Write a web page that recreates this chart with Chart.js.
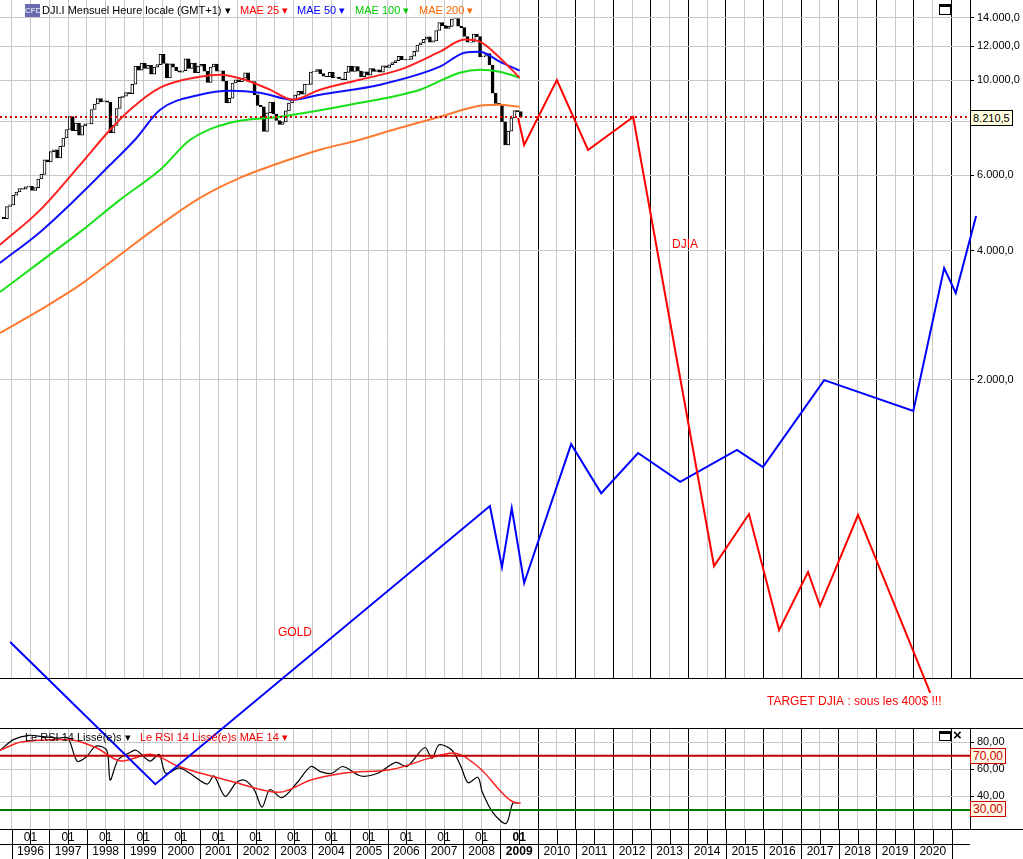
<!DOCTYPE html>
<html><head><meta charset="utf-8">
<style>
body{margin:0;background:#fff;width:1023px;height:859px;overflow:hidden;font-family:'Liberation Sans',Arial,sans-serif;position:relative}
.abs{position:absolute}
.lg{position:absolute;top:4px;font-size:11px;white-space:nowrap;z-index:6}
.box{position:absolute;font-size:11px;line-height:14px;padding:0 2px;white-space:nowrap;z-index:6}
</style>
<script src="https://cdn.jsdelivr.net/npm/chart.js@4"></script>
</head><body>
<div class="abs" style="left:0;top:-10px;width:1023px;height:698px"><canvas id="main"></canvas></div>
<div class="abs" style="left:0;top:679px;width:1023px;height:49px;background:#fff;z-index:3"></div>
<div class="abs" style="left:0;top:718px;width:1023px;height:141px"><canvas id="rsi"></canvas></div>
<div class="abs" style="left:0;top:678px;width:1023px;height:1px;background:#000;z-index:4"></div>
<div class="abs" style="left:0;top:728px;width:1023px;height:1px;background:#000;z-index:4"></div>

<div class="lg" style="left:25px;top:4px;background:#6a6ab0;color:#fff;font-size:8px;width:15px;height:13px;line-height:13px;text-align:center">CFD</div>
<div class="lg" style="left:42px">DJI.I Mensuel Heure locale (GMT+1)</div>
<div class="lg" style="left:225px">▾</div>
<div class="lg" style="left:240px;color:#f00">MAE 25 ▾</div>
<div class="lg" style="left:297px;color:#00f">MAE 50 ▾</div>
<div class="lg" style="left:355px;color:#0c0">MAE 100 ▾</div>
<div class="lg" style="left:419px;color:#f60">MAE 200 ▾</div>
<div class="abs" style="left:939px;top:4px;width:10px;height:7px;border:1px solid #000;border-top-width:3px;z-index:6"></div>
<div class="lg" style="left:25px;top:731px">Le RSI 14 Lissé(e)s ▾</div>
<div class="lg" style="left:140px;top:731px;color:#e00">Le RSI 14 Lissé(e)s MAE 14 ▾</div>
<div class="abs" style="left:939px;top:731px;width:10px;height:6px;border:1px solid #000;border-top-width:3px;z-index:6"></div>
<div class="lg" style="left:953px;top:726px;font-size:15px;font-weight:bold">×</div>
<div class="box" style="left:970px;top:110px;border:1px solid #000;background:#ffffe0">8.210,5</div>
<div class="box" style="left:970px;top:748px;border:1px solid #c00;background:#fffbe6;color:#c00;font-size:12px">70,00</div>
<div class="box" style="left:970px;top:801px;border:1px solid #c00;background:#fffbe6;color:#c00;font-size:12px">30,00</div>

<div class="abs" style="left:0;top:0;width:1023px;height:859px;pointer-events:none;z-index:5"><canvas id="ov"></canvas></div>

<script>
// ---- DATA ----
const startYear = 1995.75; // Oct 1995
const firstOpen = 4789;
const closes = [
4756,5075,5117,
5395,5486,5587,5569,5643,5655,5529,5616,5882,6029,6522,6448,
6813,6877,6584,7009,7331,7673,8223,7622,7945,7442,7823,7908,
7907,8546,8800,9063,8900,8952,8883,7539,7843,8592,9117,9181,
9359,9307,9786,10789,10560,10971,10655,10829,10337,10730,10878,11497,
10941,10128,10922,10734,10522,10448,10522,11215,10651,10971,10415,10787,
10887,10495,9879,10735,10912,10502,10523,9950,8848,9075,9852,10022,
9920,10106,10404,9946,9925,9243,8737,8664,7592,8397,8896,8342,
8054,7891,7992,8480,8850,8985,9234,9416,9275,9801,9782,10454,
10488,10584,10358,10226,10188,10435,10140,10174,10080,10027,10428,10783,
10490,10766,10504,10193,10467,10275,10641,10482,10569,10440,10806,10718,
10865,10993,11109,11367,11168,11150,11186,11381,11679,12081,12222,12463,
12622,12269,12354,13063,13628,13409,13212,13358,13896,13930,13372,13265,
12650,12266,12263,12820,12638,11350,11378,11544,10851,9325,8829,8776,
8001,7063,7609,8168,8500,8447,8210.5];
const lastPrice = 8210.5;

const mae25Dates = [1995.69,1996.76,1997.82,1998.62,1999.15,1999.95,2001.01,2001.54,2002.2,2002.87,2003.48,2004.2,2005.26,2006.33,2007.39,2008.05,2008.45,2008.98,2009.51];
const mae25 = [4129,4984,6348,7664,8534,9607,10193,10303,10029,9504,9006,9504,10029,10584,11659,12438,12305,11290,10138];
const mae50Dates = [1995.69,1996.76,1997.82,1998.62,1999.28,1999.95,2001.01,2001.81,2002.6,2003.48,2004.2,2005.8,2007.39,2008.05,2008.45,2008.98,2009.51];
const mae50 = [3748,4427,5403,6348,7262,8534,9251,9453,9352,9006,9251,9763,10756,11597,11659,11049,10527];
const mae100Dates = [1995.69,1996.76,1997.82,1998.88,1999.95,2000.75,2001.81,2003.14,2005.0,2006.86,2007.92,2008.45,2008.98,2009.51];
const mae100 = [3206,3768,4427,5259,6180,7262,7958,8220,8767,9504,10414,10584,10470,10138];
const mae200Dates = [1995.69,1996.76,1997.82,1998.88,1999.95,2001.01,2002.07,2003.14,2004.2,2005.26,2006.33,2007.39,2008.45,2008.98,2009.51];
const mae200 = [2572,2911,3329,3912,4598,5316,5919,6418,6881,7262,7746,8220,8721,8767,8673];

const djiaDates = [2009.47,2009.63,2010.50,2011.33,2012.53,2014.68,2015.61,2016.41,2017.18,2017.50,2018.51,2020.43];
const djiaPath = [8175,7069,10029,6881,8220,734,971,520,711,592,966,371];
const goldDates = [1995.96,1999.82,2008.72,2009.04,2009.30,2009.63,2010.88,2011.68,2012.66,2013.78,2015.29,2015.98,2017.61,2019.98,2020.80,2021.11,2021.65];
const goldPath = [488,227,1014,730,1003,670,1414,1086,1348,1154,1371,1250,1996,1690,3647,3188,4825];

const rsiDates = [1995.69,1996.06,1996.46,1996.84,1997.26,1997.50,1997.74,1997.98,1998.24,1998.53,1998.62,1998.83,1999.12,1999.31,1999.68,1999.92,2000.10,2000.45,2000.74,2001.20,2001.38,2001.68,2001.97,2002.18,2002.45,2002.66,2002.87,2003.19,2003.59,2003.96,2004.23,2004.52,2004.81,2005.29,2005.74,2006.22,2006.51,2006.99,2007.18,2007.37,2007.71,2007.95,2008.14,2008.40,2008.52,2008.80,2009.15,2009.33,2009.48];
const rsi = [74,82,85,84,83,83,66,69,77,74,52,67,72,74,66,71,57,61,57,49,55,40,50,52,45,32,45,39,50,62,58,57,62,55,57,65,62,76,68,78,74,62,50,54,43,28,20,35,35];
const rsiMaDates = [1995.69,1996.25,1997.50,1998.24,1998.91,1999.68,2000.45,2001.86,2003.11,2003.96,2004.81,2006.14,2007.10,2007.74,2008.40,2009.33,2009.54];
const rsiMa = [74,80,82,76,66,71,62,51,43,52,57,60,68,72,62,36,35];

const yearLabels = [];
for (let y = 1996; y <= 2020; y++) yearLabels.push(y);
const priceTicks = [2000,4000,6000,8000,10000,12000,14000];
const rsiTicks = [40,60,80];

// ---- HELPERS ----
const XMIN = 1995.69, XMAX = 2021.49;
function fmtPrice(v){ return String(Math.round(v)).replace(/\B(?=(\d{3})+(?!\d))/g,'.') + ',0'; }
function halfYearTicks(s){ const t=[]; for(let v=1996; v<=2021.01; v+=0.5) t.push({value:v}); s.ticks=t; }
function vGridColor(c){ const v=c.tick && c.tick.value; if(v!==undefined && Math.abs(v-Math.round(v))<1e-6 && v>=2010) return '#000'; return '#c8c8c8'; }
function pts(xs, ys){ return xs.map((x,i)=>({x, y:ys[i]})); }
const FONT = "'Liberation Sans', Arial, sans-serif";

const candles = closes.map((c,i)=>{
  const o = i===0 ? firstOpen : closes[i-1];
  return {x: startYear + (i+0.5)/12, y:[o,c], up: c>=o};
});

new Chart(document.getElementById('main'), {
  type:'bar',
  data:{datasets:[
    {type:'line', data:pts(mae200Dates,mae200), borderColor:'#ff7a30', borderWidth:2, pointRadius:0, cubicInterpolationMode:'monotone', order:5},
    {type:'line', data:pts(mae100Dates,mae100), borderColor:'#18e018', borderWidth:2, pointRadius:0, cubicInterpolationMode:'monotone', order:4},
    {type:'line', data:pts(mae50Dates,mae50), borderColor:'#1010ff', borderWidth:2, pointRadius:0, cubicInterpolationMode:'monotone', order:3},
    {type:'line', data:pts(mae25Dates,mae25), borderColor:'#ff2020', borderWidth:2, pointRadius:0, cubicInterpolationMode:'monotone', order:2},
    {type:'bar', data:candles, barThickness:3, grouped:false, borderColor:'#000', borderWidth:1, borderSkipped:false,
      backgroundColor:(c)=> (c.raw && c.raw.up) ? '#fff' : '#000', order:6},
    {type:'line', data:[{x:XMIN,y:lastPrice},{x:XMAX,y:lastPrice}], borderColor:'#d00000', borderWidth:2, borderDash:[2,3], pointRadius:0, order:1}
  ]},
  options:{
    responsive:true, maintainAspectRatio:false, animation:false,
    layout:{padding:0, autoPadding:false},
    plugins:{legend:{display:false}, tooltip:{enabled:false}},
    scales:{
      x:{type:'linear', offset:false, min:XMIN, max:XMAX, afterBuildTicks:halfYearTicks,
         ticks:{display:false}, border:{display:false},
         grid:{color:vGridColor, drawTicks:false, lineWidth:1, offset:false},
         afterFit:(s)=>{s.height=0;}},
      y:{type:'logarithmic', position:'right', min:402, max:15422,
         afterBuildTicks:(s)=>{s.ticks=priceTicks.map(v=>({value:v}));},
         ticks:{callback:(v)=> v===8000 ? '' : fmtPrice(v), color:'#000', font:{family:FONT,size:11}, padding:3},
         border:{color:'#000'}, grid:{color:'#c8c8c8', tickColor:'#000', tickLength:4},
         afterFit:(s)=>{s.width=53;}}
    }
  }
});

const cellPlugin = {
  id:'cells',
  afterDraw(chart){
    const ctx=chart.ctx, xs=chart.scales.x, top=chart.chartArea.bottom, H=chart.height;
    ctx.save(); ctx.strokeStyle='#000'; ctx.lineWidth=1;
    ctx.beginPath(); ctx.moveTo(0,top+0.5); ctx.lineTo(1023,top+0.5); ctx.stroke();
    ctx.beginPath(); ctx.moveTo(0,top+15.5); ctx.lineTo(970,top+15.5); ctx.stroke();
    for(let v=1996; v<=2021; v+=0.5){
      const x=Math.round(xs.getPixelForValue(v))+0.5;
      ctx.beginPath(); ctx.moveTo(x,top); ctx.lineTo(x, (v%1===0)? H : top+15); ctx.stroke();
    }
    ctx.restore();
  }
};
new Chart(document.getElementById('rsi'), {
  type:'line',
  data:{datasets:[
    {data:[{x:XMIN,y:70},{x:XMAX,y:70}], borderColor:'#c00000', borderWidth:2, pointRadius:0},
    {data:[{x:XMIN,y:30},{x:XMAX,y:30}], borderColor:'#007800', borderWidth:2, pointRadius:0},
    {data:pts(rsiMaDates,rsiMa), borderColor:'#ff2020', borderWidth:1.5, pointRadius:0, cubicInterpolationMode:'monotone'},
    {data:pts(rsiDates,rsi), borderColor:'#000', borderWidth:1.2, pointRadius:0, tension:0.3}
  ]},
  options:{
    responsive:true, maintainAspectRatio:false, animation:false,
    layout:{padding:0, autoPadding:false},
    plugins:{legend:{display:false}, tooltip:{enabled:false}},
    scales:{
      x:{type:'linear', min:XMIN, max:XMAX, afterBuildTicks:halfYearTicks,
         ticks:{autoSkip:false, maxRotation:0, padding:1, color:'#000',
           font:(c)=>({family:FONT,size:12,weight:(c.tick&&c.tick.value===2009.5)?'bold':'normal'}),
           callback:(v)=>{ if(Math.abs(v%1-0.5)>1e-6) return ''; const y=Math.floor(v); if(!yearLabels.includes(y)) return ''; return [y<=2009?'01':'', String(y)]; }},
         border:{display:false}, grid:{color:vGridColor, drawTicks:false},
         afterFit:(s)=>{s.height=30;}},
      y:{position:'right', min:15.9, max:90.7,
         afterBuildTicks:(s)=>{s.ticks=rsiTicks.map(v=>({value:v}));},
         ticks:{callback:(v)=> v+',00', color:'#000', font:{family:FONT,size:11}, padding:3},
         border:{color:'#000'}, grid:{color:'#c8c8c8', tickColor:'#000', tickLength:4},
         afterFit:(s)=>{s.width=53;}}
    }
  },
  plugins:[cellPlugin]
});

const textPlugin = {
  id:'txt',
  afterDraw(chart){
    const ctx=chart.ctx; ctx.save(); ctx.fillStyle='#ff0000'; ctx.font='12px '+FONT; ctx.textBaseline='middle';
    ctx.fillText('DJIA',672,245);
    ctx.fillText('GOLD',278,633);
    ctx.fillText('TARGET DJIA : sous les 400$ !!!',767,702);
    ctx.restore();
  }
};
new Chart(document.getElementById('ov'), {
  type:'line',
  data:{datasets:[
    {data:pts(djiaDates,djiaPath), borderColor:'#ff0000', borderWidth:2, pointRadius:0, tension:0},
    {data:pts(goldDates,goldPath), borderColor:'#0000ff', borderWidth:2, pointRadius:0, tension:0}
  ]},
  options:{
    responsive:true, maintainAspectRatio:false, animation:false,
    layout:{padding:0, autoPadding:false},
    plugins:{legend:{display:false}, tooltip:{enabled:false}},
    scales:{
      x:{type:'linear', min:XMIN, max:XMIN+1023/37.6, display:false},
      y:{type:'logarithmic', min:151.8, max:15422, display:false}
    }
  },
  plugins:[textPlugin]
});
</script>
</body></html>
